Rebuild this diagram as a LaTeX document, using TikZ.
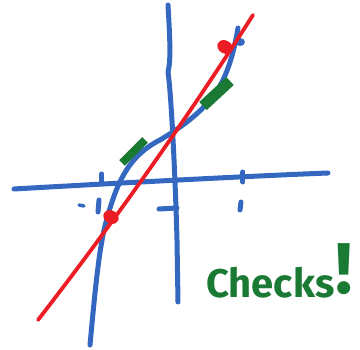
\documentclass[tikz,border=0pt]{standalone}
\usepackage{fontspec}
\setmainfont{Fira Sans}
\definecolor{penblue}{RGB}{52,104,192}
\definecolor{penred}{RGB}{236,28,36}
\definecolor{pengreen}{RGB}{26,122,52}
\tikzset{
  bluepen/.style={draw=penblue,line width=5pt,line cap=round,line join=round},
  redpen/.style={draw=penred,line width=3.8pt,line cap=round},
  greenmark/.style={draw=pengreen,line width=8pt,line cap=butt},
  reddot/.style={ellipse,fill=penred,inner sep=0pt,minimum width=16pt,minimum height=13pt},
  label/.style={text=pengreen,font=\bfseries\fontsize{40}{40}\selectfont,inner sep=0pt}
}
\usetikzlibrary{shapes.geometric}
\begin{document}
\begin{tikzpicture}[x=1pt,y=-1pt]
\useasboundingbox (0,0) rectangle (360,350);
% axes
\coordinate (xl) at (14,189);
\coordinate (xr) at (328,173);
\coordinate (yt) at (168,5);
\coordinate (yb) at (178,302);
\draw[bluepen] (xl) .. controls (100,184) and (250,176) .. (xr);
\draw[bluepen] (yt) .. controls (170,40) and (171,60) .. (168,72) .. controls (172,100) and (176,200) .. (177,240) -- (yb);
% ticks and labels
\draw[bluepen] (102,174) -- (102,183);
\draw[bluepen] (99,200) -- (98,212);
\draw[bluepen,line width=3.5pt] (79,205) -- (84,206);
\draw[bluepen] (243,172) -- (243,182);
\draw[bluepen] (241,202) -- (240,210);
\draw[bluepen] (159,209) -- (177,208);
% cubic curve
\coordinate (cb) at (90,345);
\coordinate (ct) at (238,28);
\draw[bluepen] (cb) .. controls (96,280) and (100,240) .. (108,215)
  .. controls (118,180) and (130,155) .. (160,140)
  .. controls (190,122) and (210,105) .. (222,82)
  .. controls (232,62) and (236,40) .. (ct);
\fill[penblue] (240,42) ellipse (5pt and 4pt);
% green marks
\draw[greenmark] (122,163) -- (145,140);
\draw[greenmark,line width=11pt] (203,106) -- (230,81);
% red line
\coordinate (rb) at (38,320);
\coordinate (rt) at (253,15);
\draw[redpen] (rb) .. controls (100,240) and (180,130) .. (rt);
\node[reddot,rotate=-30] (d1) at (111,217) {};
\node[reddot,rotate=-30] (d2) at (225,47) {};
% text
\node[label,anchor=base west] (chk) at (206,298) {Checks\hspace{1pt}\raisebox{4pt}{\fontsize{72}{72}\selectfont !}};
\end{tikzpicture}
\end{document}
